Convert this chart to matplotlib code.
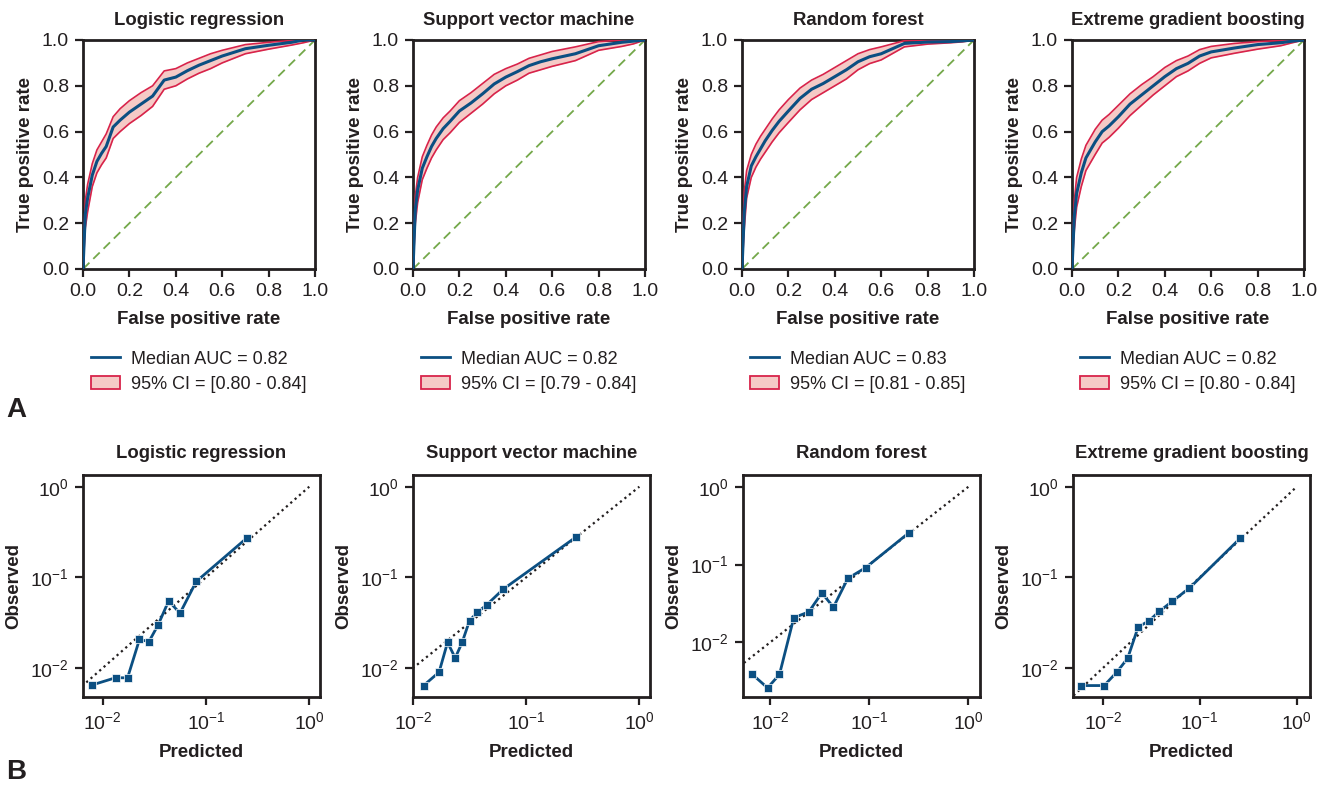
import numpy as np
import matplotlib
matplotlib.use("Agg")
import matplotlib.pyplot as plt
from matplotlib.lines import Line2D
from matplotlib.patches import Patch

plt.rcParams['font.family'] = ['Liberation Sans', 'DejaVu Sans']
plt.rcParams['mathtext.default'] = 'regular'

titles = ["Logistic regression", "Support vector machine", "Random forest", "Extreme gradient boosting"]
median_auc = ["0.82", "0.82", "0.83", "0.82"]
ci_auc = ["[0.80 - 0.84]", "[0.79 - 0.84]", "[0.81 - 0.85]", "[0.80 - 0.84]"]

fpr = [0, 0.01, 0.02, 0.04, 0.06, 0.08, 0.10, 0.13, 0.16, 0.20, 0.25, 0.30, 0.35, 0.40,
       0.45, 0.50, 0.55, 0.60, 0.70, 0.80, 0.90, 0.95, 1.0]

lr_tpr = [0, 0.24, 0.31, 0.41, 0.47, 0.505, 0.535, 0.62, 0.65, 0.685, 0.72, 0.755, 0.825, 0.838,
          0.866, 0.89, 0.91, 0.93, 0.962, 0.977, 0.99, 1.0, 1.0]
lr_up = [0.03, 0.30, 0.37, 0.46, 0.52, 0.555, 0.59, 0.665, 0.70, 0.735, 0.77, 0.80, 0.865, 0.875,
         0.90, 0.92, 0.94, 0.955, 0.98, 0.99, 0.998, 1.0, 1.0]
lr_lo = [0, 0.18, 0.25, 0.36, 0.42, 0.455, 0.485, 0.57, 0.60, 0.635, 0.67, 0.71, 0.785, 0.80,
         0.83, 0.855, 0.875, 0.90, 0.94, 0.96, 0.978, 0.988, 1.0]

svm_tpr = [0, 0.26, 0.345, 0.44, 0.49, 0.535, 0.57, 0.613, 0.645, 0.69, 0.725, 0.765, 0.808, 0.838,
           0.862, 0.888, 0.905, 0.918, 0.94, 0.975, 0.99, 0.995, 1.0]
svm_up = [0.03, 0.32, 0.40, 0.49, 0.54, 0.585, 0.62, 0.66, 0.69, 0.735, 0.77, 0.81, 0.85, 0.875,
          0.895, 0.92, 0.935, 0.95, 0.97, 0.993, 1.0, 1.0, 1.0]
svm_lo = [0, 0.20, 0.29, 0.39, 0.44, 0.485, 0.52, 0.565, 0.595, 0.64, 0.68, 0.72, 0.765, 0.80,
          0.825, 0.855, 0.87, 0.885, 0.91, 0.955, 0.972, 0.983, 1.0]

rf_tpr = [0, 0.25, 0.36, 0.45, 0.49, 0.525, 0.56, 0.605, 0.645, 0.69, 0.745, 0.785, 0.81, 0.84,
          0.87, 0.905, 0.927, 0.94, 0.985, 0.991, 0.993, 0.996, 1.0]
rf_up = [0.06, 0.34, 0.43, 0.50, 0.545, 0.58, 0.61, 0.655, 0.695, 0.74, 0.79, 0.825, 0.85, 0.88,
         0.91, 0.94, 0.958, 0.97, 0.997, 1.0, 1.0, 1.0, 1.0]
rf_lo = [0, 0.18, 0.31, 0.40, 0.445, 0.48, 0.51, 0.555, 0.595, 0.64, 0.695, 0.74, 0.77, 0.80,
         0.83, 0.87, 0.897, 0.913, 0.97, 0.982, 0.988, 0.992, 1.0]

xgb_tpr = [0, 0.23, 0.33, 0.42, 0.485, 0.52, 0.555, 0.60, 0.625, 0.665, 0.72, 0.76, 0.80, 0.84,
           0.875, 0.898, 0.93, 0.948, 0.965, 0.98, 0.988, 0.995, 1.0]
xgb_up = [0.04, 0.30, 0.40, 0.48, 0.54, 0.575, 0.61, 0.65, 0.675, 0.715, 0.765, 0.805, 0.84, 0.88,
          0.91, 0.93, 0.958, 0.972, 0.985, 0.993, 0.998, 1.0, 1.0]
xgb_lo = [0, 0.17, 0.27, 0.36, 0.43, 0.465, 0.50, 0.55, 0.575, 0.615, 0.67, 0.715, 0.76, 0.80,
          0.84, 0.865, 0.898, 0.922, 0.942, 0.96, 0.975, 0.988, 1.0]

roc_med = [lr_tpr, svm_tpr, rf_tpr, xgb_tpr]
roc_up = [lr_up, svm_up, rf_up, xgb_up]
roc_lo = [lr_lo, svm_lo, rf_lo, xgb_lo]

# Calibration (predicted, observed)
lr_pred = [0.0079, 0.0133, 0.0174, 0.0227, 0.028, 0.0344, 0.0435, 0.056, 0.0805, 0.248]
lr_obs = [0.0065, 0.0078, 0.0078, 0.0207, 0.0195, 0.0299, 0.055, 0.0402, 0.09, 0.271]
svm_pred = [0.0124, 0.017, 0.0202, 0.0236, 0.0272, 0.0316, 0.037, 0.045, 0.0627, 0.275]
svm_obs = [0.0064, 0.009, 0.0192, 0.0129, 0.0192, 0.0334, 0.041, 0.05, 0.074, 0.278]
rf_pred = [0.0066, 0.0094, 0.0124, 0.0173, 0.0245, 0.0332, 0.0435, 0.0607, 0.0922, 0.253]
rf_obs = [0.00386, 0.00259, 0.00386, 0.0207, 0.0246, 0.0431, 0.0283, 0.0663, 0.0914, 0.258]
xgb_pred = [0.00593, 0.0103, 0.0139, 0.018, 0.0231, 0.0298, 0.038, 0.0522, 0.078, 0.262]
xgb_obs = [0.0064, 0.0064, 0.009, 0.0128, 0.0284, 0.033, 0.042, 0.0546, 0.076, 0.271]

cal_pred = [lr_pred, svm_pred, rf_pred, xgb_pred]
cal_obs = [lr_obs, svm_obs, rf_obs, xgb_obs]
cal_xlim_log = [(-2.191, 0.104), (-2.0, 0.094), (-2.275, 0.118), (-2.309, 0.137)]
cal_ylim_log = [(-2.32, 0.129), (-2.32, 0.129), (-2.704, 0.152), (-2.32, 0.129)]

BLUE = "#0b4f82"
RED = "#d8234a"
PINK = "#f5cac6"
GREEN = "#74a84a"
DARK = "#231f20"

fig = plt.figure(figsize=(13.31, 7.85), dpi=100)
W, H = 1331, 785

top_left = [83, 413, 742, 1072]
top_w, top_h = 232, 229
top_y0 = 40
bot_left = [83, 413, 743, 1073]
bot_w, bot_h = 237, 222
bot_y0 = 475

def style_ax(ax):
    for s in ax.spines.values():
        s.set_linewidth(2.0)
        s.set_color(DARK)
    ax.tick_params(axis='both', which='major', direction='out', length=6, width=1.6,
                   labelsize=14, colors=DARK, pad=4)
    ax.tick_params(axis='both', which='minor', length=0)

for i in range(4):
    ax = fig.add_axes([top_left[i] / W, 1 - (top_y0 + top_h) / H, top_w / W, top_h / H])
    style_ax(ax)
    ax.plot([0, 1], [0, 1], linestyle=(0, (5, 3)), color=GREEN, lw=1.3, zorder=1)
    ax.fill_between(fpr, roc_lo[i], roc_up[i], color=PINK, lw=0, zorder=2)
    ax.plot(fpr, roc_up[i], color=RED, lw=1.2, zorder=3)
    ax.plot(fpr, roc_lo[i], color=RED, lw=1.2, zorder=3)
    ax.plot(fpr, roc_med[i], color=BLUE, lw=2.2, zorder=4)
    ax.set_xlim(0, 1)
    ax.set_ylim(0, 1)
    ticks = [0, 0.2, 0.4, 0.6, 0.8, 1.0]
    ax.set_xticks(ticks)
    ax.set_yticks(ticks)
    ax.set_xticklabels([f"{t:.1f}" for t in ticks])
    ax.set_yticklabels([f"{t:.1f}" for t in ticks])
    ax.set_title(titles[i], fontsize=13.3, fontweight='bold', pad=11, color=DARK)
    ax.set_xlabel("False positive rate", fontsize=13.5, fontweight='bold', color=DARK, labelpad=8)
    ax.set_ylabel("True positive rate", fontsize=13.5, fontweight='bold', color=DARK, labelpad=6)
    handles = [Line2D([0], [0], color=BLUE, lw=2.0),
               Patch(facecolor=PINK, edgecolor=RED, lw=1.3)]
    labels = [f"Median AUC = {median_auc[i]}", f"95% CI = {ci_auc[i]}"]
    ax.legend(handles, labels, loc='upper center', bbox_to_anchor=(0.5, -0.285), frameon=False,
              fontsize=13, handlelength=1.6, handletextpad=0.6, labelspacing=0.45,
              labelcolor=DARK)

for i in range(4):
    ax = fig.add_axes([bot_left[i] / W, 1 - (bot_y0 + bot_h) / H, bot_w / W, bot_h / H])
    style_ax(ax)
    ax.set_xscale('log')
    ax.set_yscale('log')
    ax.plot([1e-3, 1], [1e-3, 1], linestyle=(0, (1, 1.6)), color=DARK, lw=1.6, zorder=1)
    ax.plot(cal_pred[i], cal_obs[i], color=BLUE, lw=2.0, marker='s', markersize=5.5,
            markeredgecolor='white', markeredgewidth=0.5, zorder=3)
    ax.set_xlim(10 ** cal_xlim_log[i][0], 10 ** cal_xlim_log[i][1])
    ax.set_ylim(10 ** cal_ylim_log[i][0], 10 ** cal_ylim_log[i][1])
    ax.set_xticks([1e-2, 1e-1, 1e0])
    ax.set_yticks([1e-2, 1e-1, 1e0])
    ax.minorticks_off()
    ax.set_title(titles[i], fontsize=13.3, fontweight='bold', pad=12, color=DARK)
    ax.set_xlabel("Predicted", fontsize=13.5, fontweight='bold', color=DARK, labelpad=8)
    ax.set_ylabel("Observed", fontsize=13.5, fontweight='bold', color=DARK, labelpad=6)

fig.text(6 / W, 1 - 410 / H, "A", fontsize=20, fontweight='bold', color=DARK, va='center')
fig.text(6 / W, 1 - 772 / H, "B", fontsize=20, fontweight='bold', color=DARK, va='center')

fig.savefig("out.png", dpi=100, facecolor='white')
